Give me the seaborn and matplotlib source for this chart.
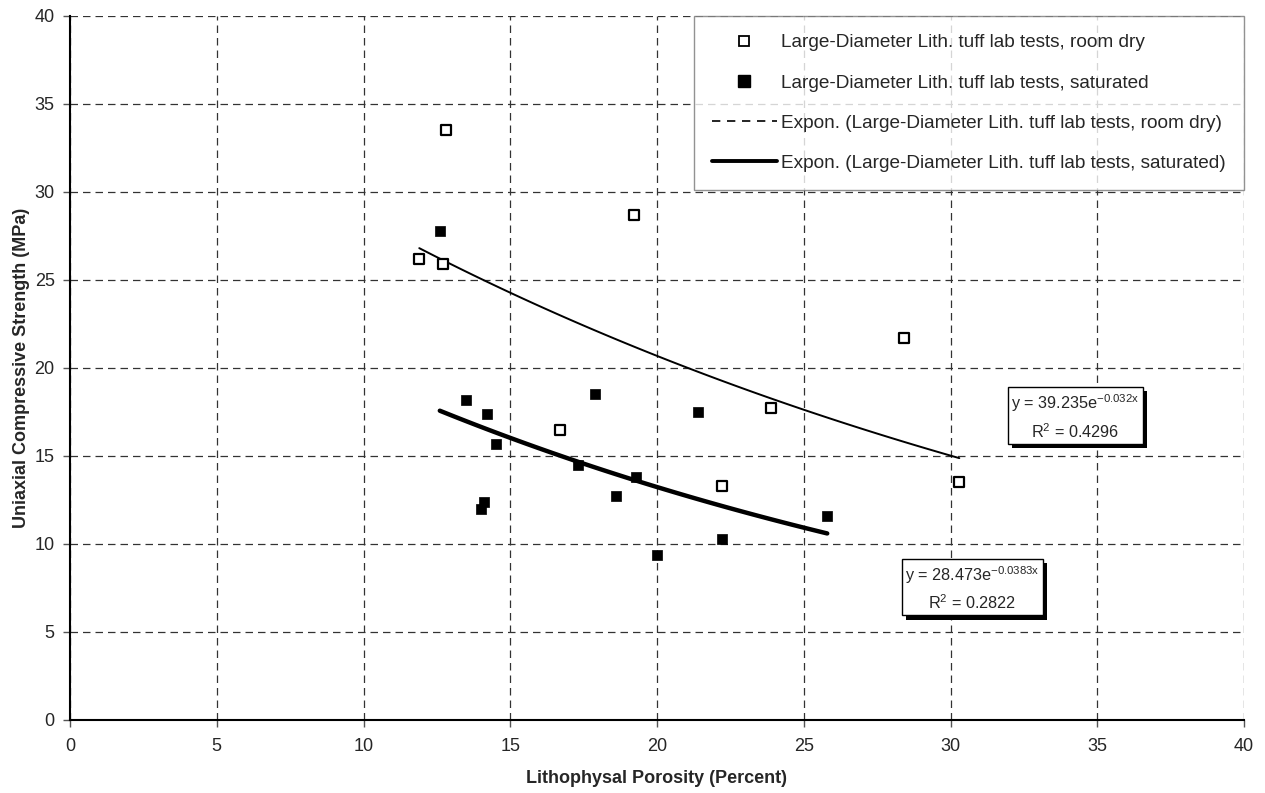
import numpy as np
import pandas as pd
import seaborn as sns
import matplotlib
matplotlib.use("Agg")
from matplotlib import pyplot as plt
from matplotlib.lines import Line2D
import matplotlib.patheffects as pe

# data
dry_porosity = [12.8, 11.9, 12.7, 19.2, 16.7, 23.9, 28.4, 22.2, 30.3]
dry_strength = [33.5, 26.2, 25.9, 28.7, 16.5, 17.7, 21.7, 13.3, 13.5]

sat_porosity = [12.6, 13.5, 14.2, 14.5, 17.9, 17.3, 19.3, 21.4, 14.1, 14.0, 18.6, 25.8, 22.2, 20.0]
sat_strength = [27.8, 18.2, 17.4, 15.7, 18.5, 14.5, 13.8, 17.5, 12.4, 12.0, 12.7, 11.6, 10.3, 9.4]

# exponential trend coefficients as printed on the chart
dry_fit = (39.235, -0.032, 0.4296)
sat_fit = (28.473, -0.0383, 0.2822)

ticks = [0, 5, 10, 15, 20, 25, 30, 35, 40]

labels = [
    "Large-Diameter Lith. tuff lab tests, room dry",
    "Large-Diameter Lith. tuff lab tests, saturated",
    "Expon. (Large-Diameter Lith. tuff lab tests, room dry)",
    "Expon. (Large-Diameter Lith. tuff lab tests, saturated)",
]

sns.set_style("white")
plt.rcParams["font.family"] = ["Liberation Sans", "DejaVu Sans"]
plt.rcParams["mathtext.fontset"] = "custom"
plt.rcParams["mathtext.rm"] = "Liberation Sans"
plt.rcParams["mathtext.it"] = "Liberation Sans"

fig = plt.figure(figsize=(12.65, 7.93), dpi=100)
ax = fig.add_axes([70 / 1265, 1 - 720 / 793, 1174 / 1265, 704 / 793])

dry = pd.DataFrame({"x": dry_porosity, "y": dry_strength})
sat = pd.DataFrame({"x": sat_porosity, "y": sat_strength})

# trend lines
xd = np.linspace(min(dry_porosity), max(dry_porosity), 100)
xs = np.linspace(min(sat_porosity), max(sat_porosity), 100)
sns.lineplot(x=xd, y=dry_fit[0] * np.exp(dry_fit[1] * xd), ax=ax, color="black", lw=1.4, zorder=3)
sns.lineplot(x=xs, y=sat_fit[0] * np.exp(sat_fit[1] * xs), ax=ax, color="black", lw=3.2, zorder=3)

sns.scatterplot(data=dry, x="x", y="y", ax=ax, marker="s", s=52, facecolor="white",
                edgecolor="black", linewidth=1.6, zorder=4)
sns.scatterplot(data=sat, x="x", y="y", ax=ax, marker="s", s=62, color="black",
                edgecolor="black", linewidth=0.5, zorder=4)

ax.set_xlim(0, 40)
ax.set_ylim(0, 40)
ax.set_xticks(ticks)
ax.set_yticks(ticks)
ax.tick_params(labelsize=13, length=5, width=1, direction="out",
               bottom=True, left=True, color="#555555")
ax.tick_params(axis="x", pad=8)
ax.tick_params(axis="y", pad=6)
ax.grid(True, ls=(0, (6, 4)), color="#333333", lw=0.9)
ax.set_axisbelow(True)
for s in ["top", "right"]:
    ax.spines[s].set_visible(False)
for s in ["left", "bottom"]:
    ax.spines[s].set_color("black")
    ax.spines[s].set_linewidth(1.5)

ax.set_xlabel("Lithophysal Porosity (Percent)", fontsize=13, fontweight="bold", labelpad=11)
ax.set_ylabel("Uniaxial Compressive Strength (MPa)", fontsize=13, fontweight="bold", labelpad=3)

handles = [
    Line2D([], [], ls="none", marker="s", ms=7, mfc="white", mec="black", mew=1.3),
    Line2D([], [], ls="none", marker="s", ms=8, mfc="black", mec="black"),
    Line2D([], [], color="black", lw=1.2, ls=(0, (5, 4))),
    Line2D([], [], color="black", lw=2.8),
]
leg = ax.legend(handles, labels, loc="upper right", bbox_to_anchor=(1.0, 1.0),
                borderaxespad=0, fontsize=13.7, labelspacing=1.2, handlelength=3.4,
                handletextpad=0.25, borderpad=0.95, frameon=True, fancybox=False)
leg.get_frame().set_edgecolor("#777777")
leg.get_frame().set_linewidth(1.0)

def eq_box(x, y, fit):
    a, b, r2 = fit
    txt = "y = %se$^{%sx}$\nR$^{2}$ = %s" % (a, b, r2)
    t = ax.text(x, y, txt, fontsize=11.7, ha="center", va="center", multialignment="center",
                linespacing=1.5,
                bbox=dict(boxstyle="square,pad=0.2", fc="white", ec="black", lw=1.0), zorder=6)
    t.get_bbox_patch().set_path_effects(
        [pe.SimplePatchShadow(offset=(3, -3), shadow_rgbFace="black", alpha=1.0), pe.Normal()])

eq_box(34.25, 17.25, dry_fit)
eq_box(30.75, 7.5, sat_fit)

fig.savefig("out.png", dpi=100)
